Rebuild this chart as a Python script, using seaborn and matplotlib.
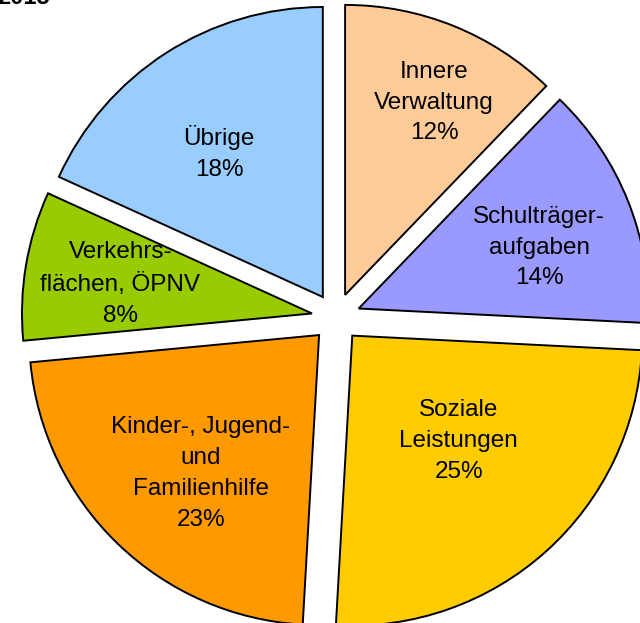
import numpy as np
import matplotlib
matplotlib.use("Agg")
import matplotlib.pyplot as plt
import seaborn as sns

# data
categories = ["Innere\nVerwaltung", "Schulträger-\naufgaben", "Soziale\nLeistungen",
              "Kinder-, Jugend-\nund\nFamilienhilfe", "Verkehrs-\nflächen, ÖPNV", "Übrige"]
shares = [12.2, 13.6, 25.1, 22.6, 8.3, 18.2]
colors = ["#FFCC99", "#9999FF", "#FFCC00", "#FF9900", "#99CC00", "#99CCFF"]
title_text = "2015"

# style
label_radius = [0.74, 0.66, 0.51, 0.62, 0.67, 0.62]
label_angle_adj = [-2.5, -2.1, 4.1, 2.8, -0.1, 2.55]
text_dy = -3 / 290

sns.set_theme(style="white")
plt.rcParams["font.family"] = ["Liberation Sans", "DejaVu Sans"]

fig = plt.figure(figsize=(6.40, 6.23), dpi=100)
ax = fig.add_axes([0, 0, 1, 1])
wedges, _ = ax.pie(shares, colors=colors, startangle=90, counterclock=False,
                   explode=[0.084] * len(shares),
                   wedgeprops=dict(edgecolor="black", linewidth=1.4))
ax.set_xlim(-336 / 290, (640 - 336) / 290)
ax.set_ylim(-(623 - 317.5) / 290, 317.5 / 290)
ax.set_aspect("auto")
ax.axis("off")

for w, cat, val, r, adj in zip(wedges, categories, shares, label_radius, label_angle_adj):
    mid = np.deg2rad((w.theta1 + w.theta2) / 2 + adj)
    cx, cy = w.center
    ax.text(cx + r * np.cos(mid), cy + r * np.sin(mid) + text_dy, f"{cat}\n{val:.0f}%",
            ha="center", va="center", fontsize=17.5, linespacing=1.52, color="black")

fig.text(-3 / 640, 1 - 4 / 623, title_text, ha="left", va="baseline",
         fontsize=17, fontweight="bold", color="black")

fig.savefig("out.png", dpi=100)
